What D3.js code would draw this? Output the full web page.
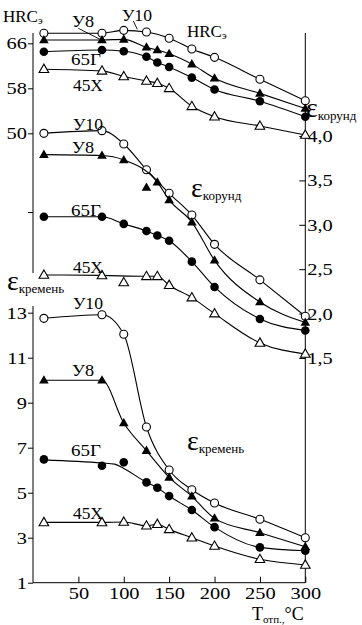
<!DOCTYPE html>
<html>
<head>
<meta charset="utf-8">
<script src="https://cdn.jsdelivr.net/npm/d3@7"></script>
<style>
  body { margin: 0; background: #fff; }
  text { font-family: "Liberation Serif", "Times New Roman", serif; fill: #000; }
</style>
</head>
<body>
<svg id="chart" width="362" height="625"></svg>
<script>
// Tempering temperature, °C
const tempTicks = [50, 100, 150, 200, 250, 300];
const hrcTicks = [66, 58, 50, 36];
const corundTicks = [4.0, 3.5, 3.0, 2.5, 2.0, 1.5];
const flintTicks = [1, 3, 5, 7, 9, 11, 13];

const steels = ["У10", "У8", "65Г", "45Х"];

// measurement temperatures
const tempsA = [12, 76, 100, 125, 150, 175, 200, 250, 300];
const tempsB = [12, 76, 100, 125, 137, 150, 175, 200, 250, 300];

// hardness HRCэ
const hrcU10 = [67.8, 67.8, 68.3, 68.0, 66.9, 65.0, 63.5, 59.6, 55.8];
const hrcU8 = [66.6, 66.6, 66.7, 65.3, 64.8, 64.15, 62.3, 59.8, 57.1, 54.4];
const hrc65G = [64.5, 64.8, 64.6, 63.6, 62.6, 61.8, 59.9, 57.8, 55.7, 52.95];
const hrc45X = [61.4, 61.1, 60.1, 59.3, 58.9, 58.0, 54.8, 52.95, 51.3, 49.7];

// relative wear resistance against corundum
const corU10 = [4.03, 4.06, 3.91, 3.62, 3.355, 3.11, 2.78, 2.38, 1.97];
const corU8 = [3.79, 3.78, 3.73, 3.42, 3.48, 3.28, 3.03, 2.60, 2.13, 1.90];
const cor65G = [3.09, 3.09, 3.01, 2.93, 2.88, 2.82, 2.585, 2.30, 1.94, 1.81];
const cor45X = [2.435, 2.43, 2.35, 2.42, 2.42, 2.32, 2.18, 2.0, 1.67, 1.545];

// relative wear resistance against flint
const flU10 = [12.75, 12.91, 12.04, 7.92, 6.01, 5.13, 4.54, 3.82, 3.0];
const flU8 = [10.0, 10.0, 8.1, 6.87, 5.68, 4.84, 3.86, 3.22, 2.6];
const fl65G = [6.48, 6.2, 6.35, 5.46, 5.22, 4.85, 4.23, 3.47, 2.57, 2.42];
const fl45X = [3.68, 3.68, 3.70, 3.53, 3.60, 3.37, 3.0, 2.63, 2.04, 1.79];

// averaged curves where they do not pass through every point
const corU8Curve = [[12, 3.79], [76, 3.78], [100, 3.73], [137, 3.48], [150, 3.28], [175, 3.03], [200, 2.60], [250, 2.13], [300, 1.90]];
const cor45XCurve = [[12, 2.435], [76, 2.43], [125, 2.42], [137, 2.42], [150, 2.32], [175, 2.18], [200, 2.0], [250, 1.67], [300, 1.545]];
const fl65GCurve = [[12, 6.46], [76, 6.32], [90, 6.27], [100, 6.08], [125, 5.46], [137, 5.22], [150, 4.85], [175, 4.23], [200, 3.47], [250, 2.57], [300, 2.42]];

const svg = d3.select("#chart");

const x = d3.scaleLinear().domain([0, 300]).range([33, 305.3]);
const yHrc = d3.scaleLinear().domain([66, 50]).range([43.3, 133.3]);
const yCor = d3.scaleLinear().domain([4, 1.5]).range([136, 358]);
const yFl = d3.scaleLinear().domain([1, 13]).range([582.7, 312.7]);

const xL = x(0), xR = x(300), yB = yFl(1);

// axis lines
const axisG = svg.append("g").attr("stroke", "#000").attr("stroke-width", 1);
axisG.append("line").attr("x1", xL).attr("x2", xL).attr("y1", 33).attr("y2", 273);
axisG.append("line").attr("x1", xL).attr("x2", xL).attr("y1", 306).attr("y2", yB);
axisG.append("line").attr("x1", xR).attr("x2", xR).attr("y1", 33).attr("y2", yB);
axisG.append("line").attr("x1", xL).attr("x2", xR).attr("y1", yB).attr("y2", yB);

// tick numerals are set slightly wide
function styleAxis(g) {
  g.select(".domain").remove();
  g.selectAll(".tick line").attr("stroke", "#000");
  g.selectAll(".tick text").attr("font-size", 17).attr("fill", "#000")
    .each(function () {
      const t = d3.select(this);
      const tx = +t.attr("x") || 0;
      t.attr("x", 0).attr("transform", `translate(${tx},0) scale(1.2,1)`);
    });
}

svg.append("g").attr("transform", `translate(${xL},0)`)
  .call(d3.axisLeft(yHrc).tickValues(hrcTicks).tickSize(5).tickPadding(1)
    .tickFormat(d => d === 36 ? "" : d))
  .call(styleAxis);

svg.append("g").attr("transform", `translate(${xL},0)`)
  .call(d3.axisLeft(yFl).tickValues(flintTicks).tickSize(5).tickPadding(1))
  .call(styleAxis);

const comma = d => d3.format(".1f")(d).replace(".", ",");
svg.append("g").attr("transform", `translate(${xR},0)`)
  .call(d3.axisRight(yCor).tickValues(corundTicks).tickSize(-6).tickPadding(2).tickFormat(comma))
  .call(styleAxis);

svg.append("g").attr("transform", `translate(0,${yB})`)
  .call(d3.axisBottom(x).tickValues(tempTicks).tickSize(-6).tickPadding(4))
  .call(styleAxis);

// series
const markers = { "У10": "openCircle", "У8": "filledTriangle", "65Г": "filledCircle", "45Х": "openTriangle" };

const panels = [
  { y: yHrc, series: [
    { name: "У10", t: tempsA, v: hrcU10 },
    { name: "У8", t: tempsB, v: hrcU8 },
    { name: "65Г", t: tempsB, v: hrc65G },
    { name: "45Х", t: tempsB, v: hrc45X } ] },
  { y: yCor, series: [
    { name: "У10", t: tempsA, v: corU10 },
    { name: "У8", t: tempsB, v: corU8, curve: corU8Curve },
    { name: "65Г", t: tempsB, v: cor65G },
    { name: "45Х", t: tempsB, v: cor45X, curve: cor45XCurve } ] },
  { y: yFl, series: [
    { name: "У10", t: tempsA, v: flU10 },
    { name: "У8", t: tempsA, v: flU8 },
    { name: "65Г", t: tempsB, v: fl65G, curve: fl65GCurve },
    { name: "45Х", t: tempsB, v: fl45X } ] }
];

const tri = d3.symbol().type(d3.symbolTriangle).size(40);

panels.forEach(p => {
  const line = d3.line().x(d => x(d[0])).y(d => p.y(d[1])).curve(d3.curveMonotoneX);
  p.series.forEach(s => {
    const pts = s.t.map((t, i) => [t, s.v[i]]);
    svg.append("path")
      .attr("d", line(s.curve || pts))
      .attr("fill", "none").attr("stroke", "#000").attr("stroke-width", 1.1);
    const kind = markers[s.name];
    const g = svg.append("g");
    pts.forEach(d => {
      const cx = x(d[0]), cy = p.y(d[1]);
      if (kind === "openCircle") {
        g.append("circle").attr("cx", cx).attr("cy", cy).attr("r", 4)
          .attr("fill", "#fff").attr("stroke", "#000").attr("stroke-width", 1.1);
      } else if (kind === "filledCircle") {
        g.append("circle").attr("cx", cx).attr("cy", cy).attr("r", 4.3).attr("fill", "#000");
      } else if (kind === "filledTriangle") {
        g.append("path").attr("d", tri()).attr("transform", `translate(${cx},${cy + 0.5})`).attr("fill", "#000");
      } else {
        g.append("path").attr("d", tri()).attr("transform", `translate(${cx},${cy + 0.5})`)
          .attr("fill", "#fff").attr("stroke", "#000").attr("stroke-width", 1.1);
      }
    });
  });
});

// steel labels (x in °C, y = baseline in pixels)
const labelPos = [
  [[98, 21], [43, 27], [42, 65], [44, 91]],
  [[44, 130], [43, 152.5], [42, 216], [44, 273]],
  [[44, 309], [43, 376], [42, 456], [44, 519]]
];
labelPos.forEach(row => row.forEach((pos, i) => {
  svg.append("text").attr("x", x(pos[0])).attr("y", pos[1]).attr("font-size", 17)
    .attr("textLength", i === 1 ? 22 : 30).attr("lengthAdjust", "spacingAndGlyphs")
    .text(steels[i]);
}));

// leader lines to the top curves
svg.append("line").attr("x1", 78.3).attr("y1", 28.3).attr("x2", 100).attr("y2", 39.3).attr("stroke", "#000").attr("stroke-width", 0.9);
svg.append("line").attr("x1", 133.3).attr("y1", 21).attr("x2", 137.3).attr("y2", 29.3).attr("stroke", "#000").attr("stroke-width", 0.9);

// HRC titles
function hrcLabel(px, py) {
  const t = svg.append("text").attr("x", px).attr("y", py).attr("font-size", 17);
  t.append("tspan").text("HRC");
  t.append("tspan").attr("font-size", 11).attr("dy", 2).text("э");
}
hrcLabel(3, 22);
hrcLabel(187, 37);

// epsilon titles
function epsLabel(px, py, sub) {
  const t = svg.append("text").attr("x", px).attr("y", py);
  t.append("tspan").attr("font-size", 28).text("ε");
  t.append("tspan").attr("font-size", 13).attr("dy", 2.5).text(sub);
}
epsLabel(306, 117, "корунд");
epsLabel(191, 197, "корунд");
epsLabel(7, 290, "кремень");
epsLabel(187, 450, "кремень");

// x-axis title
const xt = svg.append("text").attr("x", 252).attr("y", 619.5).attr("font-size", 18);
xt.append("tspan").text("T");
xt.append("tspan").attr("font-size", 11).attr("dy", 3).text("отп.,");
xt.append("tspan").attr("dy", -3).text("°C");
</script>
</body>
</html>
